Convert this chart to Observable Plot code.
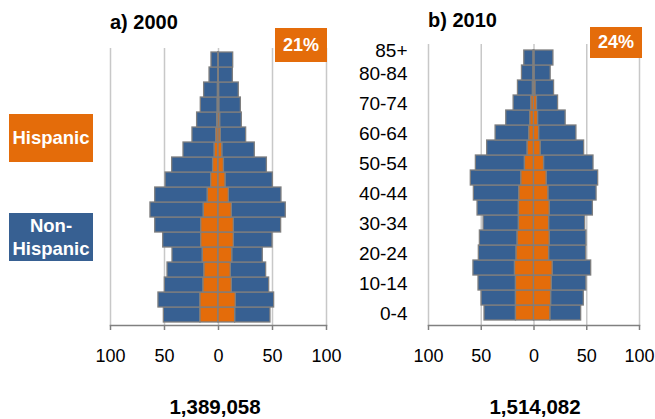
<!DOCTYPE html>
<html>
<head>
<meta charset="utf-8">
<script src="https://cdn.jsdelivr.net/npm/d3@7"></script>
<script src="https://cdn.jsdelivr.net/npm/@observablehq/plot@0.6"></script>
<style>
  html, body { margin: 0; padding: 0; background: #fff; }
  #wrap { position: relative; width: 655px; height: 419px; font-family: "Liberation Sans", Arial, sans-serif; overflow: hidden; }
  .abs { position: absolute; }
  .title { font-weight: bold; font-size: 20px; color: #000; line-height: 1; }
  .box { color: #fff; font-weight: bold; display: flex; align-items: center; justify-content: center; text-align: center; }
  .total { font-weight: bold; font-size: 20.5px; color: #000; transform: translateX(-50%); line-height: 1; }
</style>
</head>
<body>
<div id="wrap"></div>
<script>
// Age groups, bottom to top
const ages = ["0-4","5-9","10-14","15-19","20-24","25-29","30-34","35-39","40-44","45-49","50-54","55-59","60-64","65-69","70-74","75-79","80-84","85+"];
const ageTicks = ["0-4","10-14","20-24","30-34","40-44","50-54","60-64","70-74","80-84"];
const xTicks = [-100, -50, 0, 50, 100];

// 2000: population (thousands), left and right halves; total and Hispanic share of it
const total2000Left  = [50.6, 55.6, 49.7, 47.2, 42.6, 51.2, 58.6, 63.0, 58.6, 49.0, 42.9, 32.4, 24.1, 19.8, 16.4, 13.3, 8.3, 6.5];
const total2000Right = [48.1, 51.5, 46.9, 44.1, 41.0, 50.0, 58.0, 62.3, 58.3, 50.3, 44.8, 33.6, 25.6, 21.6, 20.7, 18.8, 13.3, 13.6];
const hisp2000Left   = [16.7, 16.7, 13.9, 13.0, 14.5, 16.0, 16.0, 13.6, 9.9, 6.8, 5.0, 3.5, 2.0, 1.2, 0.7, 0.5, 0.3, 0.3];
const hisp2000Right  = [15.4, 16.0, 12.3, 11.4, 12.7, 14.2, 14.2, 12.3, 9.6, 6.5, 5.0, 3.5, 2.0, 1.5, 0.7, 0.5, 0.3, 0.3];

// 2010
const total2010Left  = [46.9, 49.7, 52.6, 57.4, 52.3, 51.3, 47.8, 53.5, 57.0, 59.9, 55.1, 44.4, 36.4, 26.3, 19.3, 15.2, 11.4, 9.2];
const total2010Right = [44.7, 47.2, 49.7, 54.2, 49.4, 49.7, 48.5, 55.8, 59.3, 60.8, 56.4, 47.5, 40.2, 30.0, 22.8, 19.0, 15.8, 18.4];
const hisp2010Left   = [17.1, 17.1, 17.1, 18.0, 16.5, 15.5, 14.3, 14.3, 13.9, 12.0, 8.6, 6.0, 4.4, 3.5, 2.5, 1.0, 0.5, 0.4];
const hisp2010Right  = [15.5, 16.2, 16.8, 17.7, 14.3, 14.9, 14.3, 14.9, 13.6, 12.0, 9.5, 6.3, 4.8, 3.8, 2.8, 1.3, 0.5, 0.4];

const groups = ["Hispanic", "Non-Hispanic"];
const colors = ["#E46C0A", "#376092"];

function buildRows(hL, tL, hR, tR) {
  const rows = [];
  ages.forEach((age, i) => {
    rows.push({age, group: "Non-Hispanic", x1: -hL[i], x2: -tL[i]});
    rows.push({age, group: "Non-Hispanic", x1: hR[i], x2: tR[i]});
    rows.push({age, group: "Hispanic", x1: 0, x2: -hL[i]});
    rows.push({age, group: "Hispanic", x1: 0, x2: hR[i]});
  });
  return rows;
}

function pyramid(rows, opts) {
  const marks = [
    Plot.ruleX(xTicks, {stroke: "#c8c8c8", strokeWidth: 1.5}),
    Plot.barX(rows, {x1: "x1", x2: "x2", y: "age", fill: "group", stroke: "#7f7f7f", strokeWidth: 1.3}),
    Plot.frame({anchor: "bottom", stroke: "#808080", strokeWidth: 1.5}),
    Plot.axisX({ticks: xTicks, tickFormat: d => Math.abs(d), tickSize: 5, tickPadding: 19, stroke: "#808080", strokeWidth: 1.5, fill: "#000", fontSize: 18, label: null})
  ];
  if (opts.yLabels) {
    marks.push(Plot.axisY({ticks: ageTicks, tickSize: 0, tickPadding: 21, dy: 1, fill: "#000", fontSize: 19, label: null}));
    marks.push(Plot.axisY({ticks: ["85+"], tickSize: 0, tickPadding: 21, dy: -7, fill: "#000", fontSize: 19, label: null}));
  }
  return Plot.plot({
    width: opts.width,
    height: 370,
    marginLeft: opts.marginLeft,
    marginRight: opts.marginRight,
    marginTop: opts.marginTop,
    marginBottom: 45,
    style: {fontFamily: "Liberation Sans, Arial, sans-serif", fontSize: "17px", background: "transparent", overflow: "visible"},
    x: {domain: [-100, 100], axis: null},
    y: {domain: ages.slice().reverse(), padding: 0, axis: null},
    color: {domain: groups, range: colors},
    marks
  });
}

const wrap = document.getElementById("wrap");

function place(el, left, top) {
  el.classList.add("abs");
  el.style.left = left + "px";
  el.style.top = top + "px";
  wrap.appendChild(el);
  return el;
}

const chartA = pyramid(buildRows(hisp2000Left, total2000Left, hisp2000Right, total2000Right),
  {width: 340, marginLeft: 110, marginRight: 14, marginTop: 48, yLabels: false});
place(chartA, 0, 0);

const chartB = pyramid(buildRows(hisp2010Left, total2010Left, hisp2010Right, total2010Right),
  {width: 320, marginLeft: 93, marginRight: 16, marginTop: 44, yLabels: true});
place(chartB, 335, 0);

function div(cls, html, style) {
  const d = document.createElement("div");
  d.className = cls;
  d.innerHTML = html;
  Object.assign(d.style, style || {});
  return d;
}

place(div("title", "a) 2000"), 110, 12);
place(div("title", "b) 2010"), 428, 10);

place(div("box", "21%", {width: "52px", height: "34px", background: "#E46C0A", fontSize: "18px"}), 275, 28);
place(div("box", "24%", {width: "52px", height: "31px", background: "#E46C0A", fontSize: "18px"}), 590, 27);

place(div("box", "Hispanic", {width: "84px", height: "48px", background: "#E46C0A", fontSize: "18.5px"}), 9, 114);
place(div("box", "Non-<br>Hispanic", {width: "84px", height: "48px", background: "#376092", fontSize: "18.5px", lineHeight: "23px"}), 9, 213);

place(div("total", "1,389,058"), 215, 397);
place(div("total", "1,514,082"), 535, 397);
</script>
</body>
</html>
